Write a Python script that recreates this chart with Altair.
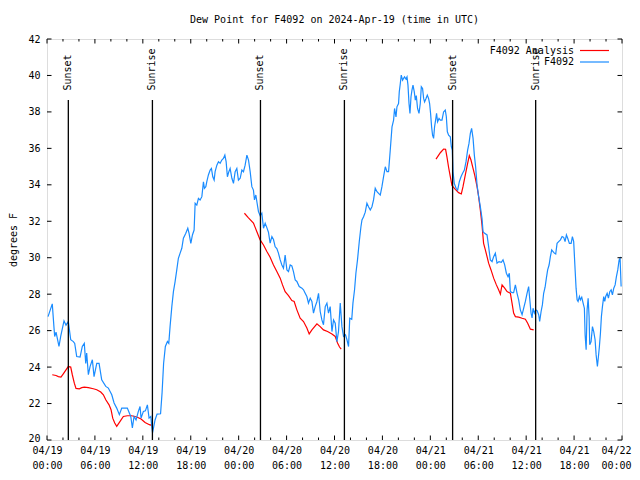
import altair as alt
import pandas as pd

title_text = "Dew Point for F4092 on 2024-Apr-19 (time in UTC)"
y_title = "degrees F"
legend_labels = ["F4092 Analysis", "F4092"]
y_ticks = list(range(20, 43, 2))
major_hours = list(range(0, 73, 6))
minor_hours = [h for h in range(0, 73, 2) if h % 6 != 0]

sun_hours = [2.67, 13.20, 26.73, 37.24, 50.79, 61.19]
sun_labels = ["Sunset", "Sunrise", "Sunset", "Sunrise", "Sunset", "Sunrise"]

# F4092 observations: hours since 2024-04-19 00:00 UTC, dew point (F)
blue_hours = [0.13,0.66,0.88,0.96,1.13,1.50,1.72,2.13,2.38,2.67,2.97,3.30,3.47,3.72,4.14,4.42,4.67,4.85,4.97,5.18,
5.39,5.68,5.89,6.23,6.52,6.85,7.36,7.68,8.11,8.40,8.73,9.06,9.36,10.06,10.31,10.49,10.69,10.90,11.15,11.44,
11.65,11.78,12.07,12.32,12.57,12.78,13.00,13.12,13.22,13.53,13.78,14.22,14.41,14.60,14.82,15.08,15.25,15.41,15.63,15.83,
16.04,16.25,16.45,16.67,16.88,17.08,17.38,17.63,17.79,18.01,18.21,18.42,18.55,18.76,18.96,19.17,19.39,19.59,19.71,19.89,
20.01,20.21,20.43,20.59,20.76,20.93,21.05,21.27,21.47,21.68,21.89,22.09,22.27,22.43,22.59,22.77,22.93,23.15,23.35,23.56,
23.77,23.97,24.19,24.40,24.60,24.81,25.03,25.23,25.44,25.65,25.85,25.98,26.15,26.28,26.48,26.69,26.90,27.11,27.32,27.53,
27.73,27.94,28.16,28.36,28.57,28.78,28.98,29.20,29.41,29.61,29.82,30.04,30.24,30.45,30.66,30.86,31.08,31.29,31.58,31.92,
32.12,32.33,32.54,32.74,32.96,33.17,33.37,33.58,33.80,34.00,34.21,34.42,34.62,34.84,35.05,35.25,35.46,35.68,35.88,36.09,
36.30,36.50,36.72,36.93,37.13,37.38,37.56,37.76,37.91,38.16,38.31,38.51,38.68,38.88,39.10,39.31,39.44,39.64,39.85,40.06,
40.26,40.48,40.69,40.89,41.10,41.32,41.52,41.73,41.94,42.14,42.36,42.57,42.77,42.98,43.20,43.40,43.52,43.70,43.82,44.02,
44.11,44.24,44.36,44.52,44.65,44.77,44.95,45.08,45.20,45.33,45.45,45.58,45.70,45.83,45.99,46.12,46.24,46.40,46.58,46.74,
46.87,47.03,47.16,47.28,47.46,47.62,47.78,47.91,48.03,48.16,48.28,48.41,48.53,48.66,48.78,48.91,49.09,49.25,49.46,49.66,
49.87,50.00,50.13,50.29,50.50,50.63,50.75,50.84,51.00,51.22,51.42,51.63,51.84,52.04,52.26,52.47,52.67,52.84,53.01,53.17,
53.35,53.51,53.67,53.85,54.05,54.26,54.47,54.60,54.80,55.10,55.30,55.51,55.73,55.93,56.14,56.35,56.60,56.89,57.10,57.31,
57.52,57.73,57.89,58.02,58.23,58.43,58.65,58.86,59.06,59.27,59.49,59.69,59.90,60.11,60.31,60.44,60.61,60.74,60.86,61.03,
61.19,61.37,61.57,61.69,61.87,62.03,62.19,62.37,62.53,62.69,62.87,63.03,63.20,63.37,63.53,63.70,63.87,64.07,64.29,64.50,
64.70,64.87,65.04,65.20,65.41,65.63,65.79,65.95,66.13,66.25,66.38,66.50,66.67,66.79,66.96,67.13,67.29,67.38,67.51,67.63,
67.76,67.88,67.96,68.13,68.30,68.46,68.63,68.76,68.92,69.05,69.17,69.30,69.42,69.55,69.71,69.84,69.96,70.14,70.30,70.47,
70.64,70.80,70.97,71.14,71.30,71.47,71.64,71.76,71.89]
blue_dewpt = [26.77,27.47,26.14,25.68,25.92,25.13,25.70,26.54,26.30,26.50,25.50,25.40,25.30,24.58,24.55,25.13,25.30,24.20,24.77,23.58,
24.03,24.40,23.48,24.20,24.20,23.30,22.94,22.85,22.48,22.03,21.75,21.39,21.75,21.75,21.48,21.29,20.66,21.29,21.10,21.57,
21.84,21.20,21.57,21.60,21.93,21.20,21.29,20.75,20.40,21.10,21.42,21.44,22.60,24.20,25.13,25.40,25.30,26.22,27.32,28.14,
28.69,29.33,29.97,30.25,30.52,31.07,31.34,31.62,31.34,30.79,31.25,31.52,32.99,32.89,33.26,33.17,33.35,34.17,33.81,33.90,
34.17,34.54,34.81,34.90,34.44,34.26,34.72,35.08,35.27,35.18,35.36,35.45,35.63,35.27,34.44,34.72,34.90,34.36,34.08,34.72,
34.90,34.26,34.36,34.81,34.72,35.08,35.63,35.36,34.72,33.90,33.71,33.17,33.44,33.07,32.53,32.30,32.44,31.62,31.89,31.65,
31.40,30.80,31.16,31.00,30.60,30.50,30.25,29.88,29.60,29.42,30.15,29.33,29.24,29.60,29.55,29.24,28.78,28.70,28.42,28.33,
28.24,28.05,27.87,27.51,27.78,27.60,26.96,27.32,27.60,28.05,27.05,26.59,26.32,27.32,27.51,26.96,27.32,25.95,26.59,26.41,
25.40,25.95,27.51,26.22,25.68,25.77,25.50,25.13,26.68,26.62,27.51,28.24,29.15,29.88,30.88,31.70,32.07,32.25,32.50,32.99,
32.80,32.62,32.80,33.17,33.81,33.62,33.53,33.44,33.90,34.44,34.99,34.72,34.72,35.90,37.18,37.55,38.19,37.73,38.28,38.46,
39.10,39.56,40.02,39.74,39.84,39.92,39.80,39.92,39.47,38.46,37.92,38.83,39.19,39.47,39.10,38.65,38.90,38.19,37.92,38.46,
39.38,39.28,38.74,38.55,38.74,38.92,38.74,38.46,37.92,37.18,36.72,36.55,37.18,37.55,37.92,37.46,37.64,37.55,37.55,38.00,
38.10,37.75,36.91,36.72,36.63,36.09,35.90,34.72,34.08,33.81,33.71,34.17,34.44,34.63,34.81,35.27,35.90,36.27,36.82,37.10,
36.55,35.63,34.99,33.99,33.35,32.80,32.16,31.43,31.34,31.25,30.61,29.88,29.79,30.06,30.25,29.70,29.79,29.75,29.88,29.61,
29.15,28.96,29.15,28.14,28.09,28.09,28.51,28.05,27.69,27.14,26.87,27.23,27.60,28.05,28.42,27.78,26.96,26.70,27.23,26.96,
27.14,27.10,26.87,26.50,27.05,27.41,28.05,28.38,28.88,29.33,29.60,30.06,30.43,30.34,30.25,30.20,30.79,30.88,30.98,31.16,
31.12,30.88,31.25,31.07,30.79,30.79,31.16,30.88,29.33,28.33,27.69,27.60,27.87,27.69,27.83,27.51,27.23,25.77,24.95,27.14,
27.78,26.77,25.22,25.40,26.22,25.95,25.50,24.67,24.03,24.58,25.13,25.86,26.77,27.32,27.87,27.60,27.87,28.05,27.78,28.14,
28.24,27.96,28.33,28.51,28.96,29.33,29.88,29.97,28.42]

# F4092 Analysis: three separate night-time segments
red1_hours = [0.66,1.13,1.42,1.75,2.04,2.38,2.67,2.97,3.17,3.42,3.63,4.05,4.35,4.67,5.18,5.80,6.23,6.73,7.06,7.36,
7.77,8.02,8.23,8.48,8.73,9.15,9.56,10.06,10.61,11.24,11.78,12.28,12.82,13.12]
red1_dewpt = [23.58,23.54,23.48,23.45,23.63,23.85,24.03,24.00,23.58,23.12,22.83,22.81,22.87,22.90,22.87,22.81,22.76,22.63,22.48,22.21,
21.93,21.66,21.20,20.93,20.75,21.02,21.29,21.33,21.33,21.26,21.15,20.96,20.84,20.80]
red2_hours = [24.72,25.23,25.85,26.28,26.69,27.11,27.53,27.94,28.36,28.78,29.20,29.49,29.82,30.24,30.66,30.95,31.29,31.70,32.12,32.54,
32.83,33.17,33.80,34.21,34.62,35.13,35.68,36.09,36.38,36.63,36.84]
red2_dewpt = [32.44,32.19,31.90,31.43,30.98,30.70,30.34,30.03,29.60,29.24,28.88,28.51,28.14,27.92,27.65,27.60,27.14,26.68,26.50,26.14,
25.82,26.04,26.37,26.22,26.04,25.95,25.82,25.68,25.32,25.10,24.99]
red3_hours = [48.71,49.25,49.66,49.91,50.09,50.29,50.50,50.71,51.13,51.54,51.88,52.09,52.38,52.67,52.88,53.09,53.30,53.55,53.85,54.05,
54.26,54.47,54.67,54.89,55.10,55.30,55.60,55.93,56.27,56.55,56.77,56.98,57.31,57.61,58.02,58.23,58.43,58.65,59.06,59.49,
59.90,60.19,60.53,60.94]
red3_dewpt = [35.41,35.76,35.96,35.95,35.50,34.95,34.45,33.96,33.75,33.57,33.50,33.90,34.54,35.18,35.60,35.36,34.99,34.54,33.90,33.35,
32.62,31.80,30.79,30.43,30.06,29.70,29.33,28.88,28.51,28.24,28.00,28.51,28.33,28.14,28.05,27.51,26.96,26.77,26.74,26.68,
26.63,26.41,26.08,26.04]

assert len(blue_hours) == len(blue_dewpt), (len(blue_hours), len(blue_dewpt))

BASE = pd.Timestamp("2024-04-19", tz="UTC").value // 10**6
HOUR = 3600000


def ms(h):
    return BASE + h * HOUR


W, HGT = 575, 401
FONT = "DejaVu Sans Mono"
BLUE = "#1a8cff"
RED = "#ff0000"

blue_df = pd.DataFrame({"t": [ms(h) for h in blue_hours], "v": blue_dewpt})
red_parts = []
for i, (hh, vv) in enumerate([(red1_hours, red1_dewpt), (red2_hours, red2_dewpt), (red3_hours, red3_dewpt)]):
    red_parts.append(pd.DataFrame({"t": [ms(h) for h in hh], "v": vv, "seg": i}))
red_df = pd.concat(red_parts, ignore_index=True)
sun_df = pd.DataFrame({"t": [ms(h) for h in sun_hours], "label": sun_labels})
major_df = pd.DataFrame({"t": [ms(h) for h in major_hours]})
minor_df = pd.DataFrame({"t": [ms(h) for h in minor_hours]})
ytick_df = pd.DataFrame({"v": y_ticks})

last_tick = ms(major_hours[-1])
x_enc = alt.X(
    "t:T",
    scale=alt.Scale(type="utc", domain=[ms(0), ms(72)]),
    axis=alt.Axis(
        values=[ms(h) for h in major_hours],
        labelExpr="[utcFormat(datum.value, '%m/%d'), utcFormat(datum.value, '%H:%M')]",
        title=None, ticks=False, tickSize=0, domain=False, grid=False,
        labelFont=FONT, labelFontSize=10, labelColor="black", labelPadding=5,
        labelLineHeight=15.5, labelAngle=0, labelOverlap=False, labelFlush=False,
        labelBound=False,
        labelOffset={"condition": {"test": f"datum.value >= {last_tick}", "value": -6}, "value": 0},
    ),
)
y_enc = alt.Y(
    "v:Q",
    scale=alt.Scale(domain=[20, 42], nice=False, zero=False),
    axis=alt.Axis(
        values=y_ticks, title=y_title, ticks=False, tickSize=0, domain=False, grid=False,
        labelFont=FONT, labelFontSize=10, labelColor="black", labelPadding=7,
        labelBaseline="middle",
        labelOffset={"condition": {"test": "datum.value <= 20", "value": -2}, "value": 0},
        titleFont=FONT, titleFontSize=10, titleFontWeight="normal", titleColor="black",
        titleX=-33.5, titleY=200.5, titleAngle=270, titleAlign="center", titleBaseline="middle",
    ),
)

red_line = alt.Chart(red_df).mark_line(color=RED, strokeWidth=1.2).encode(
    x=x_enc, y=y_enc, detail="seg:N")
blue_line = alt.Chart(blue_df).mark_line(color=BLUE, strokeWidth=1.2).encode(x=x_enc, y=y_enc)

sun_rules = alt.Chart(sun_df).mark_rule(color="black", strokeWidth=1.3).encode(
    x=x_enc, y=alt.value(61), y2=alt.value(HGT))
sun_text = alt.Chart(sun_df).mark_text(
    angle=270, align="left", baseline="middle", font=FONT, fontSize=10, color="black", dx=1.5
).encode(x=x_enc, y=alt.value(53), text="label:N")

tick_style = dict(color="black", strokeWidth=1)
maj_bot = alt.Chart(major_df).mark_rule(**tick_style).encode(x=x_enc, y=alt.value(HGT - 4.5), y2=alt.value(HGT))
maj_top = alt.Chart(major_df).mark_rule(**tick_style).encode(x=x_enc, y=alt.value(0), y2=alt.value(4.5))
min_bot = alt.Chart(minor_df).mark_rule(**tick_style).encode(x=x_enc, y=alt.value(HGT - 2.5), y2=alt.value(HGT))
min_top = alt.Chart(minor_df).mark_rule(**tick_style).encode(x=x_enc, y=alt.value(0), y2=alt.value(2.5))
y_left = alt.Chart(ytick_df).mark_rule(**tick_style).encode(y=y_enc, x=alt.value(0), x2=alt.value(4.5))
y_right = alt.Chart(ytick_df).mark_rule(**tick_style).encode(y=y_enc, x=alt.value(W - 4.5), x2=alt.value(W))

title = alt.Chart(pd.DataFrame({"s": [title_text]})).mark_text(
    font=FONT, fontSize=10, color="black", align="center", baseline="middle"
).encode(text="s:N", x=alt.value(W / 2), y=alt.value(-19))

leg_red_txt = alt.Chart(pd.DataFrame({"s": [legend_labels[0]]})).mark_text(
    font=FONT, fontSize=10, color="black", align="right", baseline="middle"
).encode(text="s:N", x=alt.value(527), y=alt.value(11.5))
leg_red_ln = alt.Chart(pd.DataFrame({"s": [legend_labels[0]]})).mark_rule(color=RED, strokeWidth=1.2).encode(
    x=alt.value(533), x2=alt.value(562), y=alt.value(11.5))
leg_blue_txt = alt.Chart(pd.DataFrame({"s": [legend_labels[1]]})).mark_text(
    font=FONT, fontSize=10, color="black", align="right", baseline="middle"
).encode(text="s:N", x=alt.value(527), y=alt.value(23))
leg_blue_ln = alt.Chart(pd.DataFrame({"s": [legend_labels[1]]})).mark_rule(color=BLUE, strokeWidth=1.2).encode(
    x=alt.value(533), x2=alt.value(562), y=alt.value(23))

chart = alt.layer(
    red_line, blue_line, sun_rules, sun_text,
    maj_bot, maj_top, min_bot, min_top, y_left, y_right,
    title, leg_red_txt, leg_red_ln, leg_blue_txt, leg_blue_ln,
).properties(
    width=W, height=HGT,
    autosize=alt.AutoSizeParams(type="none"),
    padding={"left": 39, "top": 31, "right": 10, "bottom": 30},
).configure_view(
    stroke="black", strokeWidth=1
).configure(background="white")

chart.save("out.html", embed_options={"renderer": "svg", "actions": False})
